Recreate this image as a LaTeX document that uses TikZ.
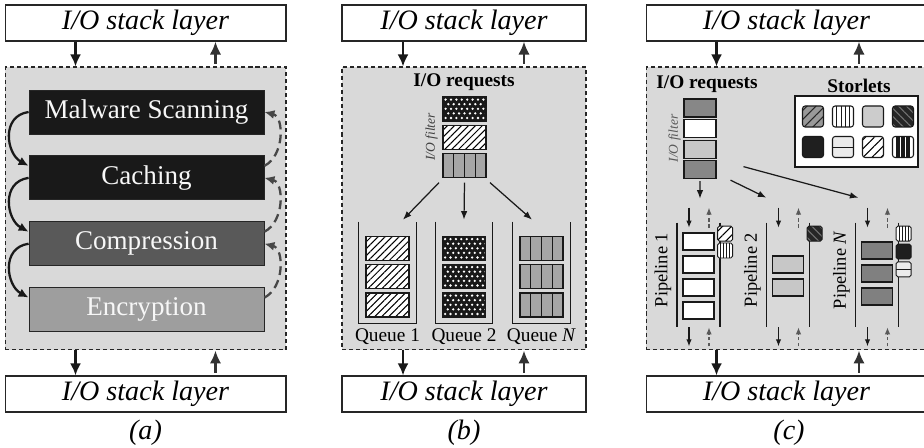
\documentclass[tikz,border=0pt]{standalone}
\usepackage{fontspec}
\setmainfont{Liberation Serif}
\usetikzlibrary{arrows.meta,positioning,calc,patterns.meta}

\begin{document}
\begin{tikzpicture}[
  x=0.02cm, y=-0.02cm,
  node distance=0.42cm,
  stacklayer/.style={draw=black!85, fill=white, line width=0.6pt, inner sep=0pt,
    minimum width=5.62cm, minimum height=0.72cm, font=\fontsize{16}{18}\selectfont\itshape},
  panel/.style={draw=black!85, fill=black!15, line width=0.6pt, dash pattern=on 2.3pt off 1.7pt,
    inner sep=0pt, minimum width=5.62cm, minimum height=5.66cm},
  stage/.style={draw=black!85, line width=0.5pt, inner sep=0pt, text=black!3,
    minimum width=4.7cm, minimum height=0.88cm, font=\fontsize{15.4}{17}\selectfont},
  headtext/.style={font=\fontsize{11}{13}\selectfont\bfseries, inner sep=0pt},
  filtertag/.style={font=\fontsize{7.7}{9}\selectfont\itshape, rotate=90, inner sep=0pt},
  capt/.style={font=\fontsize{16}{18}\selectfont\itshape, inner sep=0pt},
  qlabel/.style={font=\fontsize{11}{13}\selectfont, inner sep=0pt},
  plabel/.style={font=\fontsize{10.5}{12}\selectfont, rotate=90, inner sep=0pt},
  req/.style={draw=black!90, line width=0.6pt, inner sep=0pt, minimum width=0.86cm, minimum height=0.48cm},
  creq/.style={draw=black!90, line width=0.6pt, inner sep=0pt, minimum width=0.64cm, minimum height=0.36cm},
  pitem/.style={draw=black!90, line width=0.6pt, inner sep=0pt, minimum width=0.62cm, minimum height=0.34cm},
  queuebox/.style={inner sep=0pt, minimum width=1.14cm, minimum height=2.02cm},
  pipebox/.style={inner sep=0pt, minimum width=0.85cm, minimum height=2.08cm},
  wall/.style={line width=0.7pt, draw=black!90},
  storlet/.style={draw=black!90, line width=0.6pt, rounded corners=1.5pt, inner sep=0pt, minimum size=0.42cm},
  mini/.style={draw=black!90, line width=0.5pt, rounded corners=1pt, inner sep=0pt, minimum size=0.3cm},
  bars/.style 2 args={path picture={
    \foreach \k in {#1}
      \draw[line width=#2] ($(path picture bounding box.south west)!\k!(path picture bounding box.south east)$)
        -- ($(path picture bounding box.north west)!\k!(path picture bounding box.north east)$);}},
  hatchbox/.style={preaction={fill=white}, pattern={Lines[angle=45, distance=2.8pt, line width=0.6pt]}, pattern color=black},
  speckle/.style={fill=black!90, path picture={
    \foreach \r in {0,...,5} \foreach \c in {0,...,8}
      \fill[white] ([shift={({\c*5.4+2.6+2.7*mod(\r,2)},{\r*4.6+2.6})}]path picture bounding box.north west) circle[radius=0.72pt];}},
  cellbox/.style={fill=black!35, bars={0.25,0.5,0.75}{0.6pt}},
  grayhatch/.style={preaction={fill=black!40}, pattern={Lines[angle=45, distance=3.6pt, line width=0.6pt]}, pattern color=black!85},
  thinbars/.style={fill=white, bars={0.2,0.4,0.6,0.8}{0.4pt}},
  lightbox/.style={fill=black!20},
  darkhatch/.style={preaction={fill=black!85}, pattern={Lines[angle=-45, distance=3.2pt, line width=0.6pt]}, pattern color=black!55},
  blackfill/.style={fill=black!88},
  splitbox/.style={fill=black!8, path picture={\draw[line width=0.5pt] (path picture bounding box.west) -- (path picture bounding box.east);}},
  openhatch/.style={preaction={fill=white}, pattern={Lines[angle=45, distance=3.6pt, line width=0.6pt]}, pattern color=black},
  thickbars/.style={fill=white, bars={0.25,0.5,0.75}{2pt}},
  bigarrow/.style={-{Latex[length=2.4mm, width=2.2mm]}, line width=1.4pt, draw=black!90},
  backarrow/.style={-{Latex[length=2.6mm, width=2.3mm]}, line width=1.6pt, draw=black!80, shorten <=1.6pt},
  flow/.style={-{Latex[length=2mm, width=1.8mm]}, line width=1.3pt, draw=black!90},
  flowback/.style={-{Latex[length=2mm, width=1.8mm]}, line width=1.3pt, draw=black!72, dash pattern=on 5pt off 3pt},
  arrow/.style={-{Latex[length=1.7mm, width=1.3mm]}, line width=0.7pt, draw=black!90},
  sarrow/.style={-{Latex[length=1.4mm, width=1.1mm]}, line width=0.65pt, draw=black!90},
  sback/.style={-{Latex[length=1.4mm, width=1.1mm]}, line width=0.65pt, draw=black!65, dash pattern=on 2pt off 1.5pt}
]
\useasboundingbox (0,0) rectangle (924,448);

% (a)
\node[stacklayer] (topa) at (145.5,23) {I/O stack layer};
\node[panel] (pa) at (145.5,208.5) {};
\node[stacklayer] (bota) at (145.5,394) {I/O stack layer};
\node[capt] (capa) at (145.5,433) {(a)};
\node[stage, fill=black!90] (scan) at (146.5,112) {Malware Scanning};
\node[stage, fill=black!90, below=of scan] (cache) {Caching};
\node[stage, fill=black!65, below=of cache] (comp) {Compression};
\node[stage, fill=black!38, below=of comp] (enc) {Encryption};
\foreach \a/\b in {scan/cache, cache/comp, comp/enc} {
  \draw[flow] (\a.west) .. controls +(-28,4) and +(-22,-12) .. ([yshift=0.24cm]\b.west);
  \draw[flowback] ([yshift=0.24cm]\b.east) .. controls +(20,-10) and +(20,5) .. (\a.east);
}
\draw[bigarrow] ([xshift=-1.4cm]topa.south) -- ([xshift=-1.4cm]pa.north);
\draw[backarrow] ([xshift=1.4cm]pa.north) -- ([xshift=1.4cm]topa.south);
\draw[bigarrow] ([xshift=-1.4cm]pa.south) -- ([xshift=-1.4cm]bota.north);
\draw[backarrow] ([xshift=1.4cm]bota.north) -- ([xshift=1.4cm]pa.south);

% (b)
\node[stacklayer, minimum width=4.88cm] (topb) at (464,23) {I/O stack layer};
\node[panel, minimum width=4.88cm] (pb) at (464,208.5) {};
\node[stacklayer, minimum width=4.88cm] (botb) at (464,394) {I/O stack layer};
\node[capt] (capb) at (464,433) {(b)};
\node[headtext] (reqb) at (464,82) {I/O requests};
\node[req, speckle] (fb1) at (464.5,109) {};
\node[req, hatchbox, below=0.06cm of fb1] (fb2) {};
\node[req, cellbox, below=0.06cm of fb2] (fb3) {};
\node[filtertag, text=black!75] (tagb) at ([xshift=-0.22cm]fb2.west) {I/O filter};
\foreach \q/\x/\s in {q1/387.5/hatchbox, q2/464/speckle, qn/541.5/cellbox} {
  \node[queuebox] (\q) at (\x,272.5) {};
  \draw[wall] (\q.north west) |- (\q.south) -| (\q.north east);
  \foreach \y [count=\i] in {248.5,276.5,305}
    \node[req, \s] (\q-\i) at (\x,\y) {};
}
\node[qlabel] (l1) at (387.5,337) {Queue 1};
\node[qlabel] (l2) at (464,337) {Queue 2};
\node[qlabel] (ln) at (541.5,337) {Queue \textit{N}};
\draw[arrow] ([xshift=-0.51cm, yshift=-0.1cm]fb3.south) -- ([xshift=0.31cm, yshift=0.04cm]q1.north);
\draw[arrow] ([yshift=-0.1cm]fb3.south) -- ([yshift=0.04cm]q2.north);
\draw[arrow] ([xshift=0.51cm, yshift=-0.1cm]fb3.south) -- ([xshift=-0.19cm, yshift=0.04cm]qn.north);
\draw[bigarrow] ([xshift=-1.22cm]topb.south) -- ([xshift=-1.22cm]pb.north);
\draw[backarrow] ([xshift=1.2cm]pb.north) -- ([xshift=1.2cm]topb.south);
\draw[bigarrow] ([xshift=-1.22cm]pb.south) -- ([xshift=-1.22cm]botb.north);
\draw[backarrow] ([xshift=1.2cm]botb.north) -- ([xshift=1.2cm]pb.south);

% (c)
\node[stacklayer] (topc) at (786.5,23) {I/O stack layer};
\node[panel] (pc) at (786.5,208.5) {};
\node[stacklayer] (botc) at (786.5,394) {I/O stack layer};
\node[capt] (capc) at (789,433) {(c)};
\node[headtext] (reqc) at (707,84) {I/O requests};
\node[headtext] (stc) at (859,86) {Storlets};
\node[draw=black!90, line width=0.8pt, fill=white, inner sep=0pt, minimum width=2.46cm, minimum height=1.42cm] (store) at (856.5,131.5) {};
\foreach \s [count=\i from 0] in {grayhatch, thinbars, lightbox, darkhatch}
  \node[storlet, \s] (sa\i) at (813+30*\i,116.5) {};
\foreach \s [count=\i from 0] in {blackfill, splitbox, openhatch, thickbars}
  \node[storlet, \s] (sb\i) at (813+30*\i,147) {};
\node[creq, fill=black!47] (fc1) at (700,108) {};
\node[creq, fill=white, below=0.03cm of fc1] (fc2) {};
\node[creq, fill=black!22, below=0.03cm of fc2] (fc3) {};
\node[creq, fill=black!47, below=0.03cm of fc3] (fc4) {};
\node[filtertag, text=black!65] (tagc) at ([xshift=-0.18cm, yshift=-0.2cm]fc2.west) {I/O filter};
\foreach \p/\x/\t in {p1/698.5/1, p2/788/2, pn/877/\textit{N}} {
  \node[pipebox] (\p) at (\x,275) {};
  \draw[wall] (\p.north west) -- (\p.south west) (\p.north east) -- (\p.south east);
  \node[plabel] (\p-lab) at ([xshift=-0.28cm, yshift=0.1cm]\p.west) {Pipeline \t};
  \draw[sarrow] ([xshift=-0.19cm, yshift=0.3cm]\p.north) -- ([xshift=-0.19cm, yshift=-0.1cm]\p.north);
  \draw[sback] ([xshift=0.21cm, yshift=-0.1cm]\p.north) -- ([xshift=0.21cm, yshift=0.3cm]\p.north);
  \draw[sarrow] ([xshift=-0.19cm]\p.south) -- ([xshift=-0.19cm, yshift=-0.38cm]\p.south);
  \draw[sback] ([xshift=0.21cm, yshift=-0.38cm]\p.south) -- ([xshift=0.21cm]\p.south);
}
\foreach \y [count=\i] in {241.5,264.5,287.5,310.5}
  \node[pitem, fill=white] (p1-\i) at (698.5,\y) {};
\foreach \y [count=\i] in {264.5,287.5}
  \node[pitem, fill=black!22] (p2-\i) at (788,\y) {};
\foreach \y [count=\i] in {250.5,273.5,296.5}
  \node[pitem, fill=black!50] (pn-\i) at (877,\y) {};
\node[mini, openhatch] (m11) at ([xshift=0.1cm, yshift=-0.22cm]p1.north east) {};
\node[mini, thinbars, below=0.02cm of m11] (m12) {};
\node[mini, darkhatch] (m21) at ([xshift=0.1cm, yshift=-0.22cm]p2.north east) {};
\node[mini, thinbars] (mn1) at ([xshift=0.1cm, yshift=-0.22cm]pn.north east) {};
\node[mini, blackfill, below=0.04cm of mn1] (mn2) {};
\node[mini, splitbox, below=0.04cm of mn2] (mn3) {};
\draw[arrow] ([yshift=-0.04cm]fc4.south) -- ([xshift=0.03cm, yshift=0.48cm]p1.north);
\draw[arrow] ([shift={(0.28cm,-0.02cm)}]fc4.south east) -- ([yshift=0.5cm]p2.north west);
\draw[arrow] ([shift={(0.54cm,0.06cm)}]fc4.east) -- ([shift={(0.06cm,0.5cm)}]pn.north west);
\draw[bigarrow] ([xshift=-1.4cm]topc.south) -- ([xshift=-1.4cm]pc.north);
\draw[backarrow] ([xshift=1.45cm]pc.north) -- ([xshift=1.45cm]topc.south);
\draw[bigarrow] ([xshift=-1.4cm]pc.south) -- ([xshift=-1.4cm]botc.north);
\draw[backarrow] ([xshift=1.45cm]botc.north) -- ([xshift=1.45cm]pc.south);
\end{tikzpicture}
\end{document}
